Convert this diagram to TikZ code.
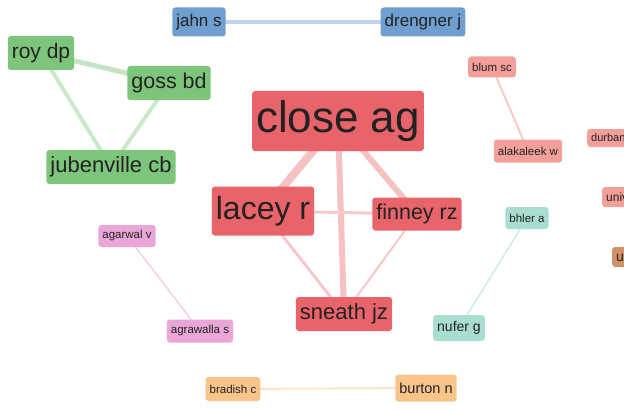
\documentclass[tikz,border=0pt]{standalone}
\usepackage{fontspec}
\setmainfont{Liberation Sans}
\usepackage[dvipsnames]{xcolor}
\usetikzlibrary{backgrounds}
\definecolor{red}{HTML}{E8636A}
\definecolor{salmon}{HTML}{F4A09A}
\definecolor{green}{HTML}{7CC57A}
\definecolor{blue}{HTML}{6F9FD0}
\definecolor{pink}{HTML}{EBA6D8}
\definecolor{teal}{HTML}{A8DDD0}
\definecolor{orange}{HTML}{F9C48A}
\definecolor{brown}{HTML}{D0906A}
\definecolor{ink}{HTML}{222222}

\begin{document}
\begin{tikzpicture}[x=1pt,y=-1pt,
  author/.style 2 args={rounded corners=3pt, inner xsep=4pt, inner ysep=0pt,
    text=ink, font=\fontsize{#1}{#1}\selectfont, minimum height=#2},
  link/.style={line cap=round}]
\useasboundingbox (0,0) rectangle (624,412);
\clip (0,0) rectangle (624,412);

\node[author={44}{60}, fill=red] (close) at (338,121) {close ag};
\node[author={32}{49}, fill=red] (lacey) at (263,211) {lacey r};
\node[author={21.5}{33}, fill=red] (finney) at (417,214) {finney rz};
\node[author={22}{34}, fill=red] (sneath) at (344,314) {sneath jz};

\node[author={21}{34}, fill=green] (roy) at (41,53) {roy dp};
\node[author={21.5}{34}, fill=green] (goss) at (169,83) {goss bd};
\node[author={22}{34}, fill=green] (jube) at (111,167) {jubenville cb};

\node[author={17}{29}, fill=blue] (jahn) at (199,22) {jahn s};
\node[author={17}{29}, fill=blue] (dreng) at (423,22) {drengner j};

\node[author={11.5}{21}, fill=salmon] (blum) at (492,67) {blum sc};
\node[author={11.5}{23}, fill=salmon] (alak) at (528,151) {alakaleek w};
\node[author={11}{18}, fill=salmon, anchor=west] (durban) at (587,138) {durban u};
\node[author={12}{20}, fill=salmon, anchor=west] (unive) at (602,197) {unive};
\node[author={14}{20}, fill=brown, anchor=west] (ut) at (612,257) {ut};

\node[author={11.5}{22}, fill=pink] (agarwal) at (127,236) {agarwal v};
\node[author={11.5}{23}, fill=pink] (agrawalla) at (200,331) {agrawalla s};

\node[author={11.5}{22}, fill=teal] (bhler) at (527,218) {bhler a};
\node[author={14}{26}, fill=teal] (nufer) at (459,328) {nufer g};

\node[author={11.5}{24}, fill=orange] (bradish) at (233,389) {bradish c};
\node[author={14.5}{27}, fill=orange] (burton) at (426,388) {burton n};

% links, drawn under the boxes
\begin{scope}[on background layer, link]
  \draw[red!40, line width=8pt] (close.center) -- (lacey.center);
  \draw[red!40, line width=6pt] (close.center) -- (finney.center);
  \draw[red!40, line width=6pt] (close.center) -- (sneath.center);
  \draw[red!35, line width=3pt] (lacey.center) -- (finney.center);
  \draw[red!35, line width=3pt] (lacey.center) -- (sneath.center);
  \draw[red!35, line width=2pt] (finney.center) -- (sneath.center);

  \draw[green!45, line width=5pt] (roy.center) -- (goss.center);
  \draw[green!40, line width=4pt] (roy.center) -- (jube.center);
  \draw[green!40, line width=4pt] (goss.center) -- (jube.center);

  \draw[blue!45, line width=4pt] (jahn.center) -- (dreng.center);
  \draw[salmon!55, line width=2pt] (blum.center) -- (alak.center);
  \draw[pink!55, line width=1.5pt] (agarwal.center) -- (agrawalla.center);
  \draw[teal!55, line width=1.5pt] (bhler.center) -- (nufer.center);
  \draw[orange!45, line width=2pt] (bradish.center) -- (burton.center);
\end{scope}

\end{tikzpicture}
\end{document}
